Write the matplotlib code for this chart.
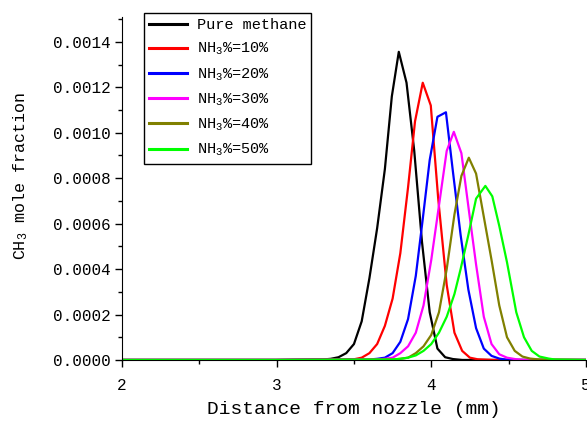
import numpy as np
import matplotlib.pyplot as plt
from matplotlib.ticker import MultipleLocator, FormatStrFormatter

plt.rcParams['font.family'] = ['Liberation Mono', 'DejaVu Sans']
plt.rcParams['mathtext.fontset'] = 'custom'
plt.rcParams['mathtext.rm'] = 'Liberation Mono'
plt.rcParams['mathtext.it'] = 'Liberation Mono'

# CH3 mole fraction profiles
x_pure = [2.0, 3.0, 3.3, 3.35, 3.4, 3.45, 3.5, 3.55, 3.6, 3.65, 3.7, 3.745, 3.79,
          3.84, 3.89, 3.94, 3.99, 4.04, 4.09, 4.14, 4.2, 5.0]
y_pure = [0, 0, 0.000002, 0.000005, 0.000012, 0.00003, 0.00007, 0.00017, 0.00036,
          0.00058, 0.00084, 0.00116, 0.001356, 0.00122, 0.00092, 0.00052, 0.00021,
          0.00005, 0.000012, 0.000004, 0, 0]

x_10 = [2.0, 3.0, 3.5, 3.55, 3.6, 3.65, 3.7, 3.75, 3.8, 3.85, 3.895, 3.945, 3.997,
        4.045, 4.1, 4.15, 4.2, 4.25, 4.3, 4.4, 5.0]
y_10 = [0, 0, 0.000003, 0.00001, 0.00003, 0.00007, 0.00015, 0.00027, 0.00047,
        0.00076, 0.00105, 0.00122, 0.00112, 0.00071, 0.00033, 0.00012, 0.00004,
        0.00001, 0.000003, 0, 0]

x_20 = [2.0, 3.0, 3.6, 3.65, 3.7, 3.75, 3.8, 3.85, 3.9, 3.945, 3.99, 4.04, 4.095,
        4.14, 4.19, 4.24, 4.29, 4.34, 4.39, 4.44, 4.5, 5.0]
y_20 = [0, 0, 0.000002, 0.000005, 0.00001, 0.00003, 0.00008, 0.00018, 0.00037,
        0.00062, 0.00088, 0.00107, 0.00109, 0.00083, 0.00055, 0.00031, 0.00014,
        0.00005, 0.000018, 0.000006, 0, 0]

x_30 = [2.0, 3.0, 3.65, 3.7, 3.75, 3.8, 3.85, 3.9, 3.95, 4.0, 4.05, 4.1, 4.146,
        4.195, 4.245, 4.29, 4.34, 4.39, 4.44, 4.49, 4.55, 4.6, 5.0]
y_30 = [0, 0, 0.000002, 0.000005, 0.00001, 0.00003, 0.00006, 0.00012, 0.00024,
        0.00044, 0.00068, 0.00092, 0.001004, 0.00091, 0.00065, 0.00042, 0.00019,
        0.00007, 0.000025, 0.00001, 0.000003, 0, 0]

x_40 = [2.0, 3.0, 3.75, 3.8, 3.85, 3.9, 3.95, 4.0, 4.05, 4.1, 4.15, 4.195, 4.243,
        4.29, 4.34, 4.39, 4.44, 4.49, 4.54, 4.59, 4.64, 4.7, 5.0]
y_40 = [0, 0, 0.000002, 0.000005, 0.00001, 0.00003, 0.00006, 0.00011, 0.00021,
        0.0004, 0.00064, 0.00081, 0.00089, 0.00082, 0.00063, 0.00044, 0.00024,
        0.0001, 0.00004, 0.000015, 0.000006, 0.000002, 0]

x_50 = [2.0, 3.0, 3.75, 3.8, 3.85, 3.9, 3.95, 4.0, 4.05, 4.1, 4.15, 4.19, 4.24,
        4.29, 4.35, 4.395, 4.44, 4.49, 4.55, 4.6, 4.65, 4.7, 4.76, 4.8, 5.0]
y_50 = [0, 0, 0.000002, 0.000005, 0.00001, 0.00002, 0.00004, 0.00007, 0.00012,
        0.00019, 0.00029, 0.0004, 0.00055, 0.00071, 0.000766, 0.00072, 0.00059,
        0.00043, 0.00021, 0.0001, 0.00004, 0.000015, 0.000006, 0.000002, 0]

labels = ['Pure methane', 'NH$_3$%=10%', 'NH$_3$%=20%', 'NH$_3$%=30%',
          'NH$_3$%=40%', 'NH$_3$%=50%']
colors = ['black', 'red', 'blue', '#ff00ff', '#808000', '#00ff00']
xs = [x_pure, x_10, x_20, x_30, x_40, x_50]
ys = [y_pure, y_10, y_20, y_30, y_40, y_50]

fig = plt.figure(figsize=(5.87, 4.21), dpi=100)
ax = fig.add_axes([0.208, 0.145, 0.79, 0.815])

for x, y, c, lab in zip(xs, ys, colors, labels):
    ax.plot(x, y, color=c, lw=1.6, label=lab)

ax.set_xlim(2, 5)
ax.set_ylim(0, 0.00151)
ax.spines['top'].set_visible(False)
ax.spines['right'].set_visible(False)
ax.xaxis.set_major_locator(MultipleLocator(1))
ax.xaxis.set_minor_locator(MultipleLocator(0.5))
ax.yaxis.set_major_locator(MultipleLocator(0.0002))
ax.yaxis.set_minor_locator(MultipleLocator(0.0001))
ax.yaxis.set_major_formatter(FormatStrFormatter('%.4f'))
ax.tick_params(which='major', direction='out', length=5, width=1, labelsize=11.5, pad=3)
ax.tick_params(axis='x', which='major', pad=8)
ax.tick_params(which='minor', direction='out', length=3, width=1)

ax.set_xlabel('Distance from nozzle (mm)', fontsize=14, labelpad=6)
ax.set_ylabel('CH$_3$ mole fraction', fontsize=12)
ax.yaxis.set_label_coords(-0.198, 0.535)

leg = ax.legend(loc='upper left', bbox_to_anchor=(0.047, 1.012), borderaxespad=0,
                fontsize=11, handlelength=2.5, handletextpad=0.6, labelspacing=0.58,
                fancybox=False, edgecolor='black', framealpha=1, borderpad=0.35)
leg.get_frame().set_linewidth(1)
for line in leg.get_lines():
    line.set_linewidth(2.2)

fig.savefig('out.png', dpi=100)
